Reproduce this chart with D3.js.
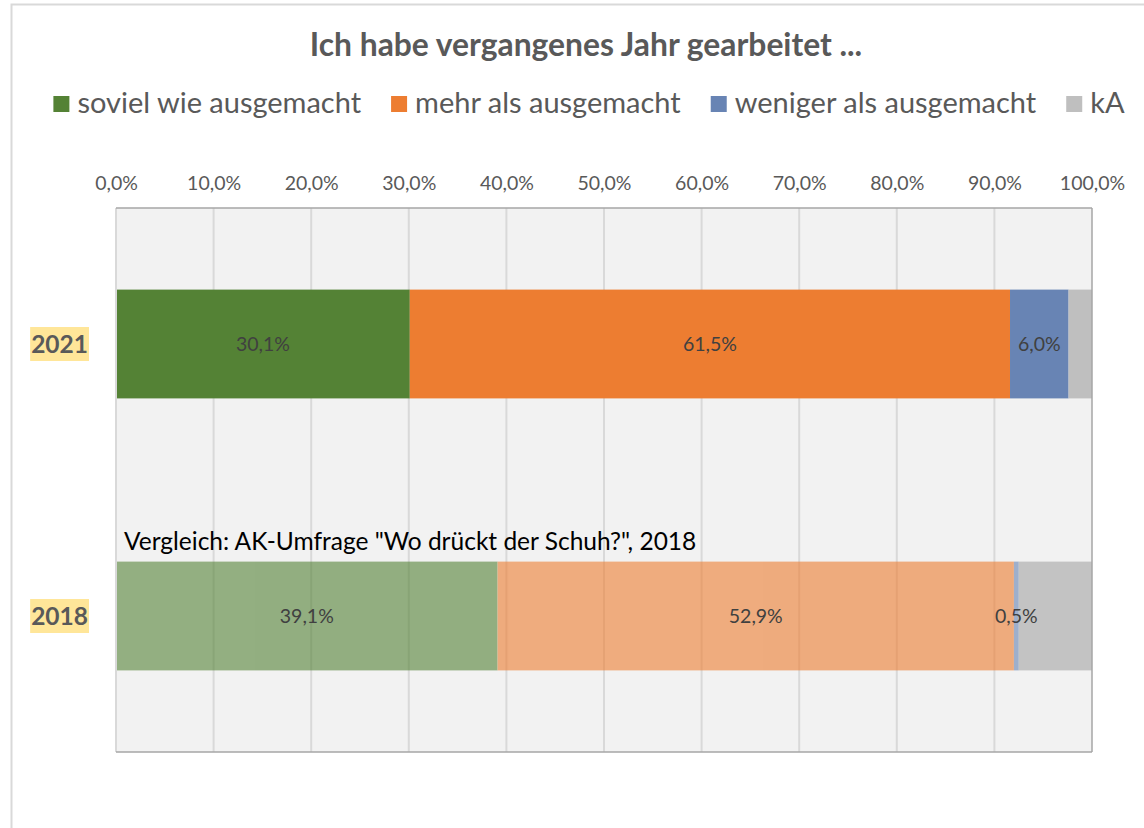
<!DOCTYPE html>
<html>
<head>
<meta charset="utf-8">
<script src="https://cdn.jsdelivr.net/npm/d3@7"></script>
<style>
    body { margin: 0; background: #fff; }
    text { font-family: Lato, "Open Sans", sans-serif; }
</style>
</head>
<body>
<div id="chart"></div>
<script>
    // Data
    const years = ["2021", "2018"];
    const categories = ["soviel wie ausgemacht", "mehr als ausgemacht", "weniger als ausgemacht", "kA"];
    const values2021 = [30.1, 61.5, 6.0, 2.4];
    const values2018 = [39.1, 52.9, 0.5, 7.5];
    const labels2021 = ["30,1%", "61,5%", "6,0%", ""];
    const labels2018 = ["39,1%", "52,9%", "0,5%", ""];
    const ticks = [0, 10, 20, 30, 40, 50, 60, 70, 80, 90, 100];
    const colors = ["#548235", "#ed7d31", "#6884b4", "#bfbfbf"];
    const colors2018 = ["#548235", "#ed7d31", "#6884b4", "#a5a5a5"];
    const note = "Vergleich: AK-Umfrage \"Wo drückt der Schuh?\", 2018";

    const W = 1144, H = 828;
    const margin = { top: 208, right: 52, bottom: 76, left: 116 };
    const width = W - margin.left - margin.right;
    const height = H - margin.top - margin.bottom;

    const rows = [
        { year: "2021", values: values2021, labels: labels2021, colors: colors, opacity: 1 },
        { year: "2018", values: values2018, labels: labels2018, colors: colors2018, opacity: 0.6 }
    ];

    const svg = d3.select("#chart").append("svg")
        .attr("width", W)
        .attr("height", H)
        .attr("viewBox", [0, 0, W, H]);

    // chart frame
    svg.append("path")
        .attr("d", `M11.5,${H} V4.5 H${W}`)
        .attr("fill", "none")
        .attr("stroke", "#d9d9d9")
        .attr("stroke-width", 2);

    // Title
    svg.append("text")
        .attr("x", 586)
        .attr("y", 56)
        .attr("text-anchor", "middle")
        .attr("font-size", 31.8)
        .attr("font-weight", "bold")
        .attr("fill", "#595959")
        .text("Ich habe vergangenes Jahr gearbeitet ...");

    // Legend
    const legend = svg.append("g");
    let lx = 0;
    categories.forEach((c, i) => {
        const item = legend.append("g").attr("transform", `translate(${lx},0)`);
        item.append("rect")
            .attr("x", 0).attr("y", -17)
            .attr("width", 16).attr("height", 16)
            .attr("fill", colors[i]);
        const t = item.append("text")
            .attr("x", 24)
            .attr("y", 0)
            .attr("font-size", 29)
            .attr("fill", "#595959")
            .text(c);
        lx += 24 + t.node().getComputedTextLength() + 30;
    });
    const legendW = lx - 30;
    legend.attr("transform", `translate(${(52 + 1126) / 2 - legendW / 2},113)`);

    const chart = svg.append("g")
        .attr("transform", `translate(${margin.left},${margin.top})`);

    const x = d3.scaleLinear().domain([0, 100]).range([0, width]);
    const y = d3.scaleBand().domain(years).range([0, height]).paddingInner(0.6).paddingOuter(0.3);

    // Plot area background
    chart.append("rect")
        .attr("width", width)
        .attr("height", height)
        .attr("fill", "#f2f2f2");

    // Grid lines
    chart.append("g")
        .selectAll("line")
        .data(ticks.slice(1, -1))
        .join("line")
        .attr("x1", d => x(d)).attr("x2", d => x(d))
        .attr("y1", 0).attr("y2", height)
        .attr("stroke", "#d9d9d9")
        .attr("stroke-width", 2);

    // Top axis labels
    chart.append("g")
        .call(d3.axisTop(x).tickValues(ticks).tickSize(0).tickPadding(18)
            .tickFormat(d => d3.format(".1f")(d).replace(".", ",") + "%"))
        .call(g => g.select(".domain").remove())
        .selectAll("text")
        .attr("font-family", "Lato, sans-serif")
        .attr("font-size", 19.5)
        .attr("fill", "#595959");

    // Stacked bars
    rows.forEach(r => {
        let acc = 0;
        const segs = r.values.map((v, i) => {
            const s = { x0: acc, x1: acc + v, label: r.labels[i], color: r.colors[i] };
            acc += v;
            return s;
        });
        const g = chart.append("g").attr("opacity", r.opacity);
        g.selectAll("rect")
            .data(segs)
            .join("rect")
            .attr("x", d => x(d.x0))
            .attr("width", d => x(d.x1) - x(d.x0))
            .attr("y", y(r.year))
            .attr("height", y.bandwidth())
            .attr("fill", d => d.color);
        chart.append("g")
            .selectAll("text")
            .data(segs.filter(d => d.label))
            .join("text")
            .attr("x", d => x((d.x0 + d.x1) / 2))
            .attr("y", y(r.year) + y.bandwidth() / 2 + 7)
            .attr("text-anchor", "middle")
            .attr("font-size", 19.5)
            .attr("fill", "#404040")
            .text(d => d.label);
    });

    // Plot area borders
    chart.append("line").attr("x1", 0).attr("x2", 0).attr("y1", 0).attr("y2", height)
        .attr("stroke", "#d9d9d9").attr("stroke-width", 2);
    chart.append("line").attr("x1", width).attr("x2", width).attr("y1", 0).attr("y2", height)
        .attr("stroke", "#a6a6a6").attr("stroke-width", 1.5);
    chart.append("line").attr("x1", 0).attr("x2", width).attr("y1", 0).attr("y2", 0)
        .attr("stroke", "#a6a6a6").attr("stroke-width", 1.5);
    chart.append("line").attr("x1", 0).attr("x2", width).attr("y1", height).attr("y2", height)
        .attr("stroke", "#a6a6a6").attr("stroke-width", 1.5);

    // Year labels with highlight
    years.forEach(yr => {
        const cy = margin.top + y(yr) + y.bandwidth() / 2;
        const hl = svg.append("rect")
            .attr("fill", "#ffe699");
        const t = svg.append("text")
            .attr("x", 88)
            .attr("y", cy + 9)
            .attr("text-anchor", "end")
            .attr("font-size", 24.5)
            .attr("font-weight", "bold")
            .attr("fill", "#595959")
            .text(yr);
        const b = t.node().getBBox();
        hl.attr("x", b.x - 1).attr("y", cy - 17).attr("width", b.width + 2).attr("height", 34);
    });

    // Comparison note
    chart.append("text")
        .attr("x", 8)
        .attr("y", y("2018") - 12)
        .attr("font-size", 24.5)
        .attr("fill", "#000")
        .text(note);
</script>
</body>
</html>
